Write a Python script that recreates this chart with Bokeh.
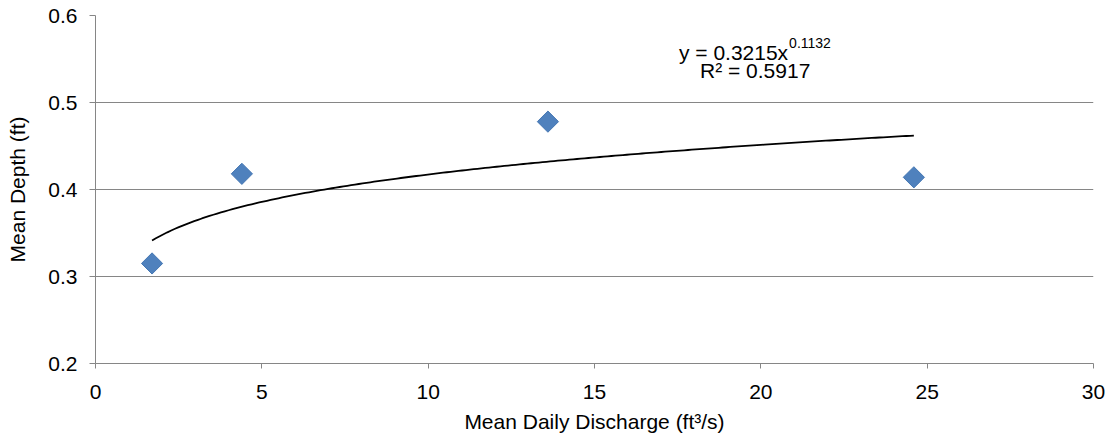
import numpy as np
from bokeh.plotting import figure
from bokeh.models import FixedTicker, PrintfTickFormatter, Label, Range1d
from bokeh.embed import file_html
from bokeh.resources import INLINE

# Data
discharge = [1.7, 4.4, 13.6, 24.6]        # Mean Daily Discharge (ft3/s)
depth = [0.315, 0.418, 0.478, 0.414]      # Mean Depth (ft)

# Power trendline shown on the chart: y = 0.3215 x^0.1132
trend_a = 0.3215
trend_b = 0.1132
trend_r2 = 0.5917

x_ticks = [0, 5, 10, 15, 20, 25, 30]
y_ticks = [0.2, 0.3, 0.4, 0.5, 0.6]

FONT = "Liberation Sans"
GRID = "#868686"

p = figure(width=1108, height=436, output_backend="svg", toolbar_location=None,
           x_range=Range1d(0, 30), y_range=Range1d(0.2, 0.6),
           min_border_left=95, min_border_right=15, min_border_top=15, min_border_bottom=73)
p.outline_line_color = None
p.background_fill_color = "white"

# trendline
tx = np.linspace(min(discharge), max(discharge), 200)
ty = trend_a * tx ** trend_b
p.line(tx, ty, line_color="black", line_width=1.8)

# points
p.scatter(discharge, depth, marker="square", size=15, angle=np.pi / 4,
          fill_color="#4F81BD", line_color="#4577B3", line_width=1)

# axes
for ax in (p.xaxis[0], p.yaxis[0]):
    ax.axis_line_color = GRID
    ax.axis_line_width = 1
    ax.major_tick_line_color = GRID
    ax.major_tick_in = 0
    ax.minor_tick_line_color = None
    ax.major_label_text_font = FONT
    ax.major_label_text_font_size = "21px"
    ax.major_label_text_color = "black"
    ax.axis_label_text_font = FONT
    ax.axis_label_text_font_size = "21px"
    ax.axis_label_text_font_style = "normal"
    ax.axis_label_text_color = "black"

p.xaxis.ticker = FixedTicker(ticks=x_ticks)
p.yaxis.ticker = FixedTicker(ticks=y_ticks)
p.yaxis.formatter = PrintfTickFormatter(format="%.1f")
p.xaxis.major_tick_out = 5
p.yaxis.major_tick_out = 6
p.xaxis.major_label_standoff = 16
p.yaxis.major_label_standoff = 12
p.xaxis.axis_label = "Mean Daily Discharge (ft³/s)"
p.yaxis.axis_label = "Mean Depth (ft)"
p.xaxis.axis_label_standoff = 8
p.yaxis.axis_label_standoff = 16

p.xgrid.grid_line_color = None
p.ygrid.grid_line_color = GRID
p.ygrid.grid_line_width = 1
p.ygrid.ticker = FixedTicker(ticks=y_ticks)

# trendline equation
p.add_layout(Label(x=20.82, y=0.5580, text="y = %.4fx" % trend_a, text_align="right",
                   text_baseline="alphabetic", text_font=FONT, text_font_size="21px",
                   text_color="black"))
p.add_layout(Label(x=20.85, y=0.5685, text="%.4f" % trend_b, text_align="left",
                   text_baseline="alphabetic", text_font=FONT, text_font_size="14px",
                   text_color="black"))
p.add_layout(Label(x=19.83, y=0.5370, text="R² = %.4f" % trend_r2, text_align="center",
                   text_baseline="alphabetic", text_font=FONT, text_font_size="21px",
                   text_color="black"))

open("out.html", "w").write(file_html(p, INLINE))
